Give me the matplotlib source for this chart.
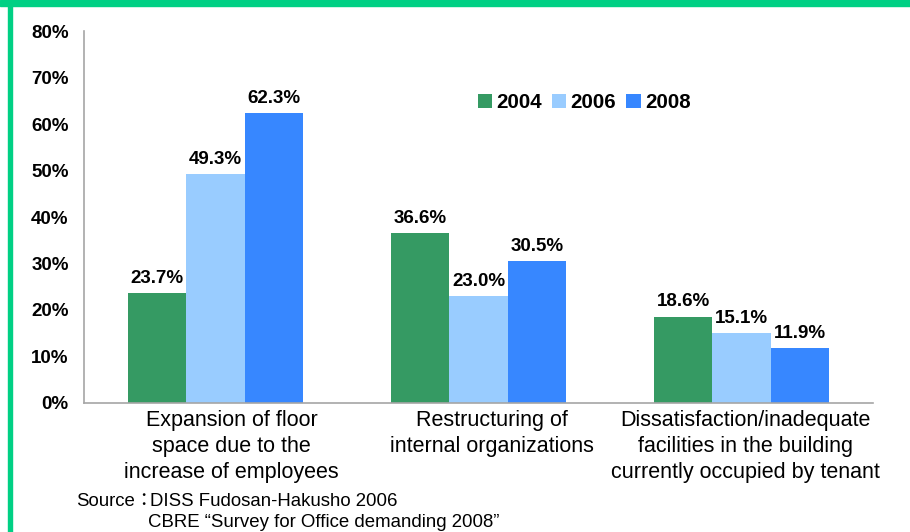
import numpy as np
import matplotlib.pyplot as plt
import matplotlib.transforms as mtransforms
from matplotlib.patches import Rectangle

plt.rcParams['font.family'] = ['Liberation Sans', 'Noto Sans CJK JP', 'DejaVu Sans']

categories = ['Expansion of floor\nspace due to the\nincrease of employees',
              'Restructuring of\ninternal organizations',
              'Dissatisfaction/inadequate\nfacilities in the building\ncurrently occupied by tenant']
years = ['2004', '2006', '2008']
v2004 = [23.7, 36.6, 18.6]
v2006 = [49.3, 23.0, 15.1]
v2008 = [62.3, 30.5, 11.9]
colors = ['#359a63', '#99ccff', '#3787ff']

fig = plt.figure(figsize=(9.1, 5.32), dpi=100)
ax = fig.add_axes([0.0923, 0.2425, 0.8670, 0.6992])

x = np.arange(len(categories))
w = 0.222
for i, (vals, yr, c) in enumerate(zip([v2004, v2006, v2008], years, colors)):
    pos = x + (i - 1) * w
    ax.bar(pos, vals, width=w, color=c, label=yr)
    for px, v in zip(pos, vals):
        ax.text(px, v + 1.3, f'{v:.1f}%', ha='center', va='bottom',
                fontsize=13.5, fontweight='bold')

ax.set_xlim(-0.5, 2.5)
ax.set_ylim(0, 80)
ax.set_yticks(np.arange(0, 81, 10))
ax.set_yticklabels([f'{t}%' for t in range(0, 81, 10)], fontsize=13.5, fontweight='bold')
ax.set_xticks(x)
ax.set_xticklabels(categories, fontsize=15.5, linespacing=1.3)
ax.tick_params(axis='both', length=0)
ax.tick_params(axis='y', pad=11)
ax.tick_params(axis='x', pad=5)

# category labels sit a little right of their groups
for lbl, dx in zip(ax.get_xticklabels(), [16, 13, 4]):
    lbl.set_transform(lbl.get_transform() + mtransforms.ScaledTranslation(dx / 100, 0, fig.dpi_scale_trans))

for s in ['top', 'right']:
    ax.spines[s].set_visible(False)
for s in ['left', 'bottom']:
    ax.spines[s].set_color('#a6a6a6')
    ax.spines[s].set_linewidth(1.2)

leg = ax.legend(loc='center left', bbox_to_anchor=(0.499, 0.808), ncol=3, frameon=False,
                prop={'weight': 'bold', 'size': 14.8}, handlelength=0.7,
                handleheight=0.7, handletextpad=0.2, columnspacing=0.5,
                borderaxespad=0, borderpad=0)

fig.text(76 / 910, 1 - 506 / 532, 'Source：', fontsize=13.4, va='baseline')
fig.text(150 / 910, 1 - 506 / 532, 'DISS Fudosan-Hakusho 2006', fontsize=13.4, va='baseline')
fig.text(148 / 910, 1 - 527 / 532, 'CBRE “Survey for Office demanding 2008”', fontsize=13.4, va='baseline')

# green frame along the top and left edge
fig.patches.append(Rectangle((0, 1 - 6 / 532), 1, 6 / 532, transform=fig.transFigure,
                             color='#00d084', zorder=10))
fig.patches.append(Rectangle((8 / 910, 0), 4 / 910, 1, transform=fig.transFigure,
                             color='#00d084', zorder=10))

fig.savefig('out.png', dpi=100)
